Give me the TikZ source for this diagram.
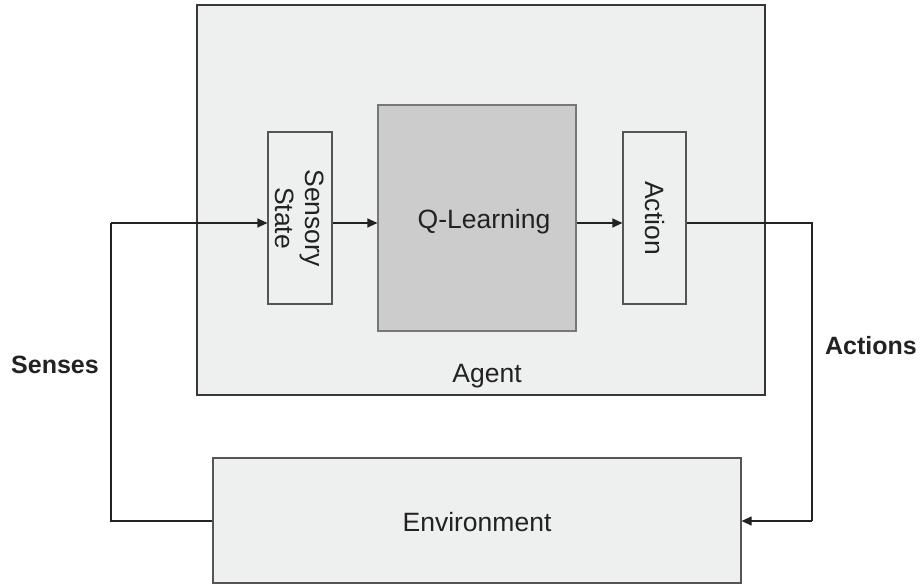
\documentclass[tikz,border=0pt]{standalone}
\usepackage{fontspec}
\setmainfont{Liberation Sans}
\usetikzlibrary{arrows.meta}
\definecolor{panel}{HTML}{EEF0EF}
\definecolor{core}{HTML}{CCCCCC}
\definecolor{ink}{HTML}{222222}
\definecolor{edge}{HTML}{555555}
\tikzset{
  block/.style={draw=edge, line width=1.2pt, fill=panel, rectangle, inner sep=0pt,
    font=\fontsize{26.5}{30}\selectfont, text=ink},
  wire/.style={draw=ink, line width=1.2pt},
  flow/.style={wire, -{Triangle[length=10pt,width=9pt]}},
  tag/.style={font=\fontsize{25}{30}\selectfont\bfseries, text=ink},
  plain/.style={font=\fontsize{26.5}{30}\selectfont, text=ink},
}
\begin{document}
\begin{tikzpicture}[x=1pt,y=-1pt]
\useasboundingbox (0,0) rectangle (921,585);
% outer agent panel and environment
\node[block, draw=ink!90, minimum width=568pt, minimum height=390pt] (agent) at (481,200) {};
\node[block, minimum width=528pt, minimum height=125pt,
      label={[plain, yshift=-2pt]center:Environment}] (env) at (477,520.5) {};
\node[plain] (agentlbl) at (487,376) {Agent};
% inner stages (rotated clockwise: node north faces right)
\node[block, minimum width=172pt, minimum height=64pt, rotate=-90, align=center] (sense) at (300,218) {Sensory\\State};
\node[block, draw=edge!80, fill=core, minimum width=198pt, minimum height=226pt,
      label={[plain, xshift=7pt, yshift=-4pt]center:Q-Learning}] (ql) at (477,218) {};
\node[block, minimum width=172pt, minimum height=63pt, rotate=-90] (act) at (654.5,218) {Action};
% signal row and loop corners
\coordinate (row) at (0,223);
\coordinate (lc) at (111,223);
\coordinate (rc) at (812,223);
\coordinate (lb) at (111,521);
\coordinate (rb) at (812,521);
\draw[flow] (lc) -- (sense.south |- row);
\draw[flow] (sense.north |- row) -- (ql.west |- row);
\draw[flow] (ql.east |- row) -- (act.south |- row);
\draw[wire] (act.north |- row) -- (rc) -- (rb);
\draw[flow] (rb) -- (env.east |- rb);
\draw[wire] (env.west |- lb) -- (lb) -- (lc);
% loop labels
\node[tag] (senses) at (55,365) {Senses};
\node[tag] (actions) at (871,346) {Actions};
\end{tikzpicture}
\end{document}
